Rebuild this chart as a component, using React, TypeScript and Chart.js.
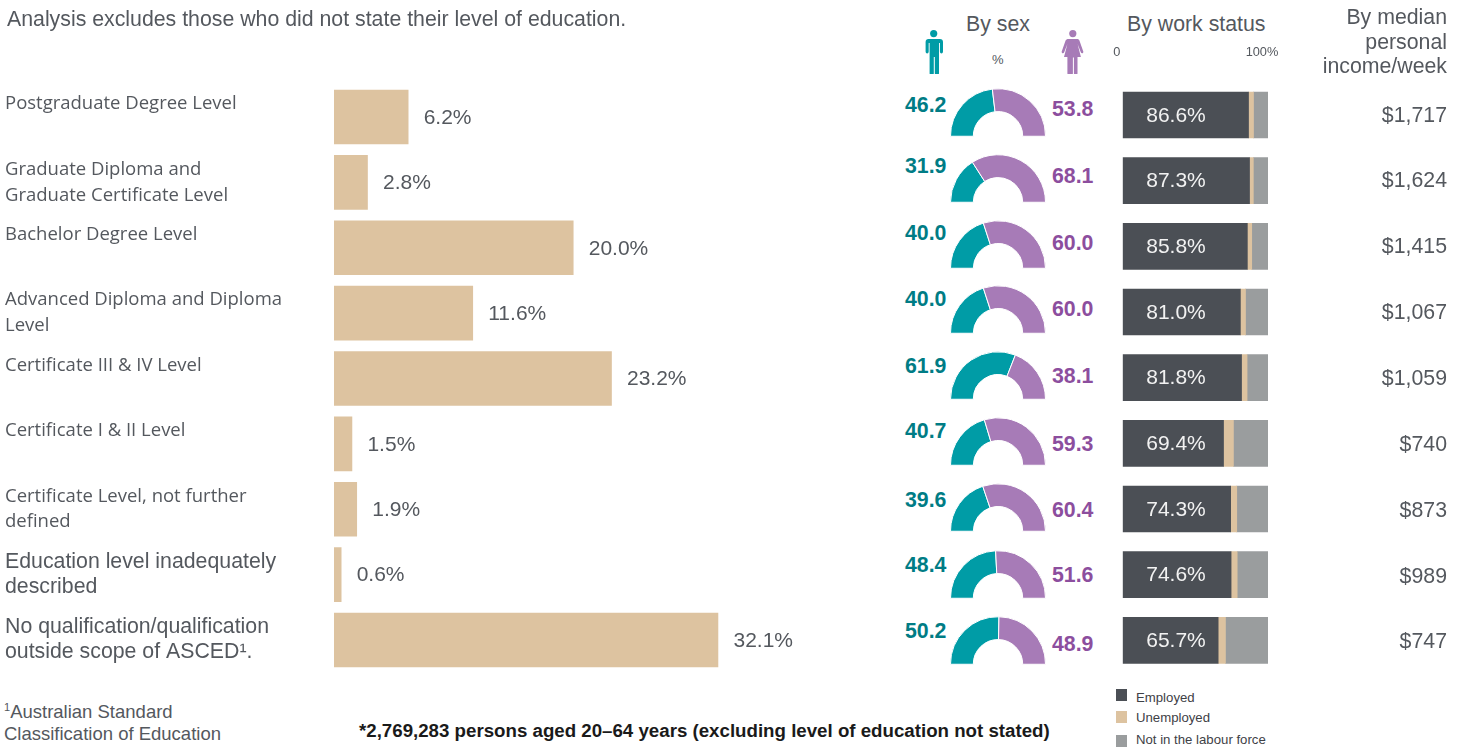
import React, { useEffect, useRef } from "react";
import { Chart, registerables } from "chart.js";

Chart.register(...registerables);

const categories: (string[])[] = [
  ["Postgraduate Degree Level", ""],
  ["Graduate Diploma and", "Graduate Certificate Level"],
  ["Bachelor Degree Level", ""],
  ["Advanced Diploma and Diploma", "Level"],
  ["Certificate III & IV Level", ""],
  ["Certificate I & II Level", ""],
  ["Certificate Level, not further", "defined"],
  ["Education level inadequately", "described"],
  ["No qualification/qualification", "outside scope of ASCED¹."],
];
const shareValues = [6.2, 2.8, 20.0, 11.6, 23.2, 1.5, 1.9, 0.6, 32.1];
const maleValues = [46.2, 31.9, 40.0, 40.0, 61.9, 40.7, 39.6, 48.4, 50.2];
const femaleValues = [53.8, 68.1, 60.0, 60.0, 38.1, 59.3, 60.4, 51.6, 48.9];
const employedValues = [86.6, 87.3, 85.8, 81.0, 81.8, 69.4, 74.3, 74.6, 65.7];
const unemployedValues = [3.4, 2.6, 3.0, 3.5, 3.8, 6.8, 4.2, 4.2, 5.0];
const notInForceValues = [10.0, 10.1, 11.2, 15.5, 14.4, 23.8, 21.5, 21.2, 29.3];
const incomeLabels = ["$1,717", "$1,624", "$1,415", "$1,067", "$1,059", "$740", "$873", "$989", "$747"];
const workSeriesNames = ["Employed", "Unemployed", "Not in the labour force"];

const TAN = "#DDC3A0";
const TEAL = "#009CA6";
const PURPLE = "#A77BB7";
const SLATE = "#4B4F55";
const GREY = "#9A9D9E";
const TEXT = "#54585E";
const SANS = "'Liberation Sans', Arial, sans-serif";

// layout only
const doughnutBase = [136, 201.5, 268, 333, 399, 465, 531, 598, 664];
const maleLabelY = [106, 167, 234, 300, 367, 432, 501, 566, 632];
const femaleLabelY = [110, 177, 244, 310, 377, 445, 511, 576, 645];
const incomeY = [116, 181, 247, 313, 379, 445, 511, 577, 642];
const legendY = [697, 717, 739];
const legendBoxY = [689, 711, 735];

const abs = (x: number, y: number, extra: React.CSSProperties = {}): React.CSSProperties => ({
  position: "absolute",
  left: x,
  top: y,
  fontFamily: SANS,
  color: TEXT,
  whiteSpace: "nowrap",
  lineHeight: 1,
  ...extra,
});

function ShareChart() {
  const ref = useRef<HTMLCanvasElement>(null);
  useEffect(() => {
    const endLabels = {
      id: "endLabels",
      afterDatasetsDraw(chart: any) {
        const { ctx } = chart;
        const meta = chart.getDatasetMeta(0);
        ctx.save();
        ctx.font = `21px ${SANS}`;
        ctx.fillStyle = TEXT;
        ctx.textAlign = "left";
        ctx.textBaseline = "middle";
        meta.data.forEach((el: any, i: number) => {
          ctx.fillText(shareValues[i].toFixed(1) + "%", el.x + 15.5, el.y + 1);
        });
        ctx.restore();
      },
    };
    const chart = new Chart(ref.current!, {
      type: "bar",
      data: {
        labels: categories as any,
        datasets: [{ data: shareValues, backgroundColor: TAN, barThickness: 54, borderWidth: 0 }],
      },
      options: {
        indexAxis: "y",
        animation: false,
        responsive: false,
        events: [],
        layout: { padding: { top: 84.3, bottom: 27.3, left: 5, right: 0 } },
        plugins: { legend: { display: false }, tooltip: { enabled: false } },
        scales: {
          x: { display: false, min: 0, max: 47.32 },
          y: {
            afterFit: (s: any) => { s.width = 329; },
            grid: { display: false, drawTicks: false },
            border: { display: false },
            ticks: {
              autoSkip: false,
              crossAlign: "far",
              padding: 0,
              color: TEXT,
              font: (c: any) =>
                c.index >= 7
                  ? { family: SANS, size: 21.3, lineHeight: 1.17 }
                  : { family: "'Open Sans'", size: 18.5, lineHeight: 1.4 },
            },
          },
        },
      },
      plugins: [endLabels],
    });
    return () => chart.destroy();
  }, []);
  return <canvas ref={ref} width={900} height={700} style={{ position: "absolute", left: 0, top: 0 }} />;
}

function WorkChart() {
  const ref = useRef<HTMLCanvasElement>(null);
  useEffect(() => {
    const inner = {
      id: "innerLabels",
      afterDatasetsDraw(chart: any) {
        const { ctx, chartArea } = chart;
        const meta = chart.getDatasetMeta(0);
        ctx.save();
        ctx.font = `21px ${SANS}`;
        ctx.fillStyle = "#F2F2F2";
        ctx.textAlign = "left";
        ctx.textBaseline = "middle";
        meta.data.forEach((el: any, i: number) => {
          ctx.fillText(employedValues[i].toFixed(1) + "%", chartArea.left + 23.5, el.y + 1);
        });
        ctx.restore();
      },
    };
    const chart = new Chart(ref.current!, {
      type: "bar",
      data: {
        labels: categories.map((c) => c.join(" ").trim()),
        datasets: [
          { label: workSeriesNames[0], data: employedValues, backgroundColor: SLATE },
          { label: workSeriesNames[1], data: unemployedValues, backgroundColor: TAN },
          { label: workSeriesNames[2], data: notInForceValues, backgroundColor: GREY },
        ].map((d) => ({ ...d, barThickness: 46, borderWidth: 0 })),
      },
      options: {
        indexAxis: "y",
        animation: false,
        responsive: false,
        events: [],
        layout: { padding: { left: 22.7, right: 22, top: 0, bottom: 6.8 } },
        plugins: { legend: { display: false }, tooltip: { enabled: false } },
        scales: {
          x: {
            position: "top",
            stacked: true,
            min: 0,
            max: 100,
            afterBuildTicks: (s: any) => { s.ticks = [{ value: 0 }, { value: 100 }]; },
            afterFit: (s: any) => { s.height = 42.2; s.paddingLeft = 0; s.paddingRight = 0; },
            grid: { display: false, drawTicks: false },
            border: { display: false },
            ticks: {
              padding: 22,
              autoSkip: false,
              maxRotation: 0,
              labelOffset: -6,
              color: TEXT,
              font: { family: SANS, size: 12.8 },
              callback: (v: any) => (v === 0 ? "0" : "100%"),
            },
          },
          y: { stacked: true, display: false },
        },
      },
      plugins: [inner],
    });
    return () => chart.destroy();
  }, []);
  return <canvas ref={ref} width={190} height={640} style={{ position: "absolute", left: 1100, top: 40 }} />;
}

function HalfDoughnut({ male, female, base }: { male: number; female: number; base: number }) {
  const ref = useRef<HTMLCanvasElement>(null);
  useEffect(() => {
    const chart = new Chart(ref.current!, {
      type: "doughnut",
      data: {
        labels: ["Male", "Female"],
        datasets: [{ data: [male, female], backgroundColor: [TEAL, PURPLE], borderColor: "#fff", borderWidth: 1 }],
      },
      options: {
        animation: false,
        responsive: false,
        events: [],
        rotation: -90,
        circumference: 180,
        cutout: "52%",
        plugins: { legend: { display: false }, tooltip: { enabled: false } },
      },
    });
    return () => chart.destroy();
  }, [male, female]);
  return <canvas ref={ref} width={96} height={49} style={{ position: "absolute", left: 950, top: base - 48 }} />;
}

function MaleIcon() {
  return (
    <svg width="20" height="44" viewBox="0 0 20 44" style={{ position: "absolute", left: 924, top: 30 }}>
      <circle cx="9.7" cy="3.6" r="3.6" fill={TEAL} />
      <path
        fill={TEAL}
        d="M3.5 9h12.4c2 0 3.1 1.2 3.1 3v9.6c0 2.500-3.100 2.500-3.100 0V13h-.9v30.500c0 .5-.4.7-.8.7h-2.600c-.5 0-.8-.3-.8-.7V27h-1v16.500c0 .5-.3.7-.8.7H6.400c-.5 0-.8-.2-.8-.7V13h-.9v8.600c0 2.500-3.100 2.500-3.100 0V12c0-1.800 1.100-3 2.900-3z"
      />
    </svg>
  );
}

function FemaleIcon() {
  return (
    <svg width="24" height="44" viewBox="0 0 24 44" style={{ position: "absolute", left: 1061, top: 30 }}>
      <circle cx="11.8" cy="3.6" r="3.6" fill={PURPLE} />
      <path
        fill={PURPLE}
        d="M7.5 9h8.600c1.200 0 2 .6 2.400 1.700l3.700 10.600c.7 1.800-1.700 2.600-2.400 1l-3.200-8.400 3.300 13.100h-3.400v16.500c0 .4-.3.7-.7.7h-2.200c-.4 0-.7-.3-.7-.7V27.500h-1v16c0 .4-.3.7-.7.7H7.100c-.4 0-.7-.3-.7-.7V27.100H3l3.400-13.200-3.200 8.400c-.7 1.600-3.100.8-2.400-1l3.700-10.600C4.900 9.600 6.200 9 7.500 9z"
      />
    </svg>
  );
}

export default function App() {
  return (
    <div style={{ position: "absolute", left: 0, top: 0, width: 1464, height: 747, overflow: "hidden", background: "#fff" }}>
      <ShareChart />
      <WorkChart />
      {maleValues.map((m, i) => (
        <HalfDoughnut key={i} male={m} female={femaleValues[i]} base={doughnutBase[i]} />
      ))}

      <div style={abs(7, 9, { fontSize: 21.3 })}>Analysis excludes those who did not state their level of education.</div>
      <div style={abs(966, 14, { fontSize: 21.3 })}>By sex</div>
      <div style={abs(1127, 14, { fontSize: 21.3 })}>By work status</div>
      <div style={abs(992, 53, { fontSize: 13 })}>%</div>
      <MaleIcon />
      <FemaleIcon />
      <div style={abs(1247, 5, { fontSize: 21.3, width: 200, textAlign: "right", lineHeight: "24.5px", whiteSpace: "normal" })}>
        By median
        <br />
        personal
        <br />
        income/week
      </div>

      {maleValues.map((m, i) => (
        <div key={"m" + i} style={abs(905, maleLabelY[i] - 11, { fontSize: 21.3, fontWeight: 700, color: "#007C85" })}>
          {m.toFixed(1)}
        </div>
      ))}
      {femaleValues.map((f, i) => (
        <div key={"f" + i} style={abs(1052, femaleLabelY[i] - 11, { fontSize: 21.3, fontWeight: 700, color: "#8C4E9E" })}>
          {f.toFixed(1)}
        </div>
      ))}
      {incomeLabels.map((t, i) => (
        <div key={"i" + i} style={abs(1247, incomeY[i] - 11, { fontSize: 21.3, width: 200, textAlign: "right" })}>
          {t}
        </div>
      ))}

      {workSeriesNames.map((n, i) => (
        <React.Fragment key={n}>
          <div
            style={{
              position: "absolute",
              left: 1116,
              top: legendBoxY[i],
              width: 11,
              height: 11.5,
              background: [SLATE, TAN, GREY][i],
            }}
          />
          <div style={abs(1136, legendY[i] - 6.5, { fontSize: 13.2, color: "#3E4146" })}>{n}</div>
        </React.Fragment>
      ))}

      <div style={abs(4, 701, { fontSize: 18.5, lineHeight: "21.5px" })}>
        <sup style={{ fontSize: 11, lineHeight: 0 }}>1</sup>Australian Standard
        <br />
        Classification of Education
      </div>
      <div style={abs(359, 722, { fontSize: 18.7, fontWeight: 700, color: "#1A1A1A" })}>
        *2,769,283 persons aged 20–64 years (excluding level of education not stated)
      </div>
    </div>
  );
}
